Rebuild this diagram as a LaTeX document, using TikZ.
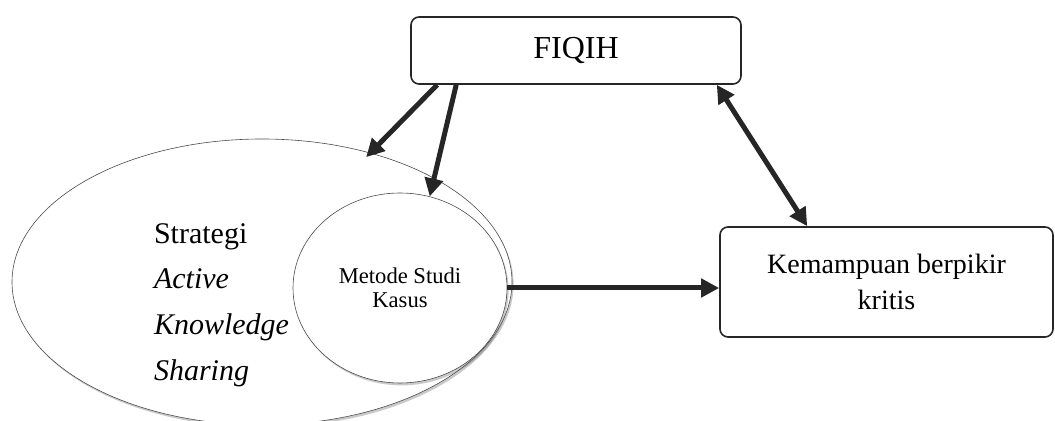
\documentclass[tikz,border=0pt]{standalone}
\usepackage{fontspec}
\setmainfont{Liberation Serif}
\usetikzlibrary{positioning,shapes.geometric,arrows.meta,shadows}

\begin{document}
\begin{tikzpicture}[x=0.5pt,y=-0.5pt,
                    boxnode/.style={rectangle, rounded corners=4pt, draw=black!85, line width=0.8pt, fill=white, align=center},
                    ovalnode/.style={ellipse, draw=black!70, line width=0.3pt, fill=white, inner sep=0pt,
                                     drop shadow={shadow xshift=0.8pt, shadow yshift=-1.2pt, opacity=0.35, fill=black!60}},
                    arrow/.style={-{Triangle[length=9pt,width=9pt]}, line width=2.5pt, draw=black!85},]
    \useasboundingbox (0,0) rectangle (1055,421);
    % nodes
    \node[ovalnode]   (strategi)  [minimum width=250pt, minimum height=143pt] at (262,282) {};
    \node[ovalnode]   (metode)    [minimum width=107pt, minimum height=95pt, align=center,
                                   font=\fontsize{11.3pt}{12pt}\selectfont] at (400,288) {Metode Studi\\Kasus};
    \node[anchor=west, align=left, font=\fontsize{15pt}{22.8pt}\selectfont]
                      (label)     at (147,305) {Strategi\\\textit{Active}\\\textit{Knowledge}\\\textit{Sharing}};
    \node[boxnode]    (fiqih)     [minimum width=165pt, minimum height=33.5pt,
                                   font=\fontsize{16pt}{18pt}\selectfont] at (576,50.5) {FIQIH};
    \node[boxnode]    (kemampuan) [minimum width=166.5pt, minimum height=55pt,
                                   font=\fontsize{14pt}{18pt}\selectfont] at (886.5,282) {Kemampuan berpikir\\kritis};
    % lines
    \draw[arrow, shorten >=-3pt] ([xshift=13.5pt]fiqih.south west) -- (strategi.50);
    \draw[arrow] ([xshift=23pt]fiqih.south west) -- (metode.72);
    \draw[arrow, {Triangle[length=9pt,width=9pt]}-{Triangle[length=9pt,width=9pt]}]
                 ([xshift=-12.5pt]fiqih.south east) -- ([xshift=44pt]kemampuan.north west);
    \draw[arrow] (metode.east) -- (metode.east -| kemampuan.west);
\end{tikzpicture}
\end{document}
